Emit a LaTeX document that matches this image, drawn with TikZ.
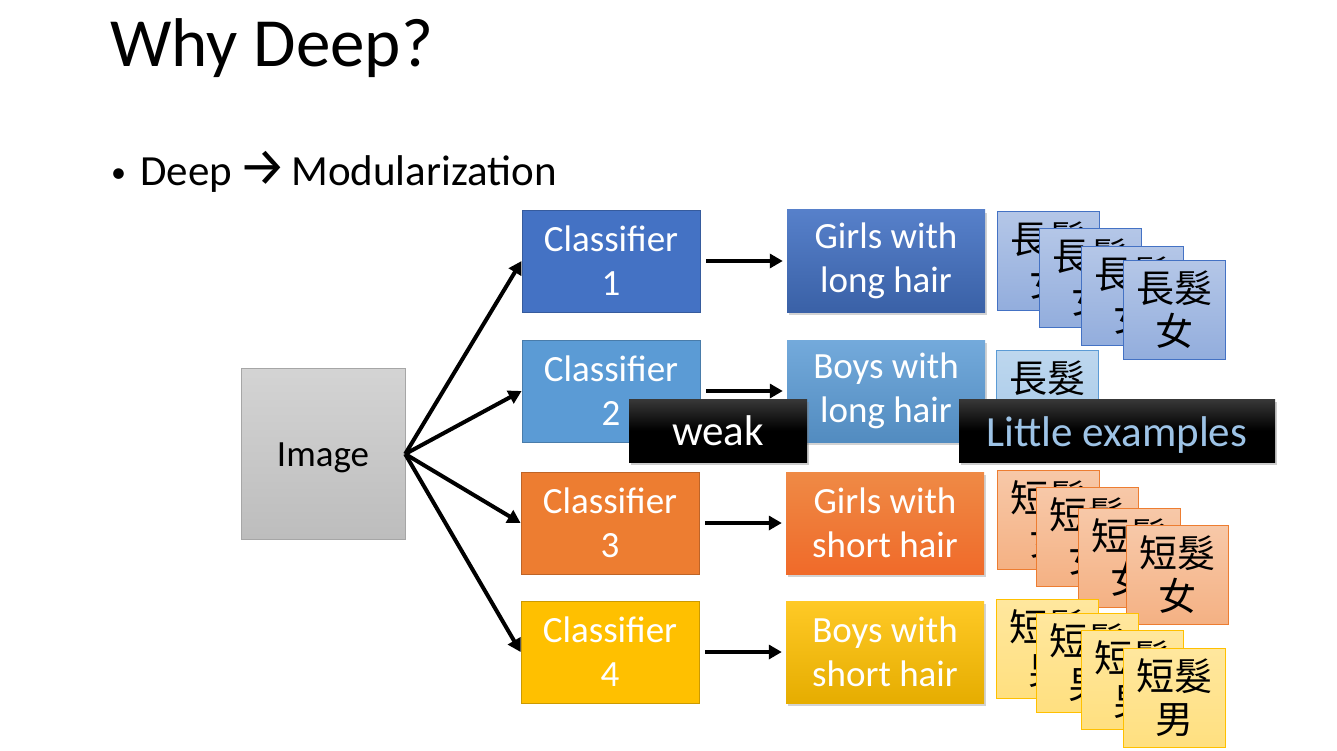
\documentclass[tikz,border=0pt]{standalone}
\usepackage{fontspec}
\setmainfont{Carlito}
\newfontfamily\cjkfont{Noto Sans CJK TC}
\newfontfamily\arrowfont{Fira Sans}
\usetikzlibrary{positioning,shadows,arrows.meta}

\definecolor{clsblue}{HTML}{4472C4}
\definecolor{clslight}{HTML}{5B9BD5}
\definecolor{clsorange}{HTML}{ED7D31}
\definecolor{clsyellow}{HTML}{FFC000}
\definecolor{tagtext}{HTML}{9DC3E6}

\tikzset{
  clsbox/.style={draw, minimum width=178pt, minimum height=102pt, text=white,
    align=center, font=\fontsize{37}{44}\selectfont, line width=0.8pt},
  outbox/.style={minimum width=198pt, minimum height=102pt, text=white,
    align=center, font=\fontsize{37}{44}\selectfont,
    drop shadow={shadow xshift=2pt, shadow yshift=-3pt, opacity=0.35}},
  card/.style={draw, minimum width=102pt, minimum height=99pt, align=center,
    font=\cjkfont\fontsize{38}{43}\selectfont, line width=0.8pt},
  tag/.style={top color=black!78, bottom color=black, middle color=black,
    minimum height=63pt, font=\fontsize{43}{50}\selectfont,
    drop shadow={shadow xshift=2pt, shadow yshift=-3pt, opacity=0.4}}
}

\begin{document}
\begin{tikzpicture}[x=1pt,y=-1pt,node distance=275pt,on grid,
    >={Triangle[length=13pt,width=14pt]}]
  \useasboundingbox[fill=white] (0,0) rectangle (1337,751);

  \node[anchor=base west, font=\fontsize{69}{80}\selectfont] (title) at (107,67) {Why Deep?};
  \node[anchor=base west, font=\fontsize{30}{36}\selectfont, inner sep=0pt] (bullet) at (111,183) {•};
  \node[anchor=base west, font=\fontsize{43}{50}\selectfont, inner sep=0pt] (point) at (140,186)
    {Deep\hspace{6pt}\scalebox{1.25}{\arrowfont →}\hspace{5pt}Modularization};

  \node[draw=black!35, top color=black!17, bottom color=black!26, minimum width=164pt,
    minimum height=171pt, font=\fontsize{37}{44}\selectfont] (img) at (323,454)
    {\raisebox{-1pt}[\height][0pt]{Image}};

  \node[clsbox, fill=clsblue, draw=clsblue!80!black] (cls_1) at (611,261) {Classifier\\1};
  \node[clsbox, fill=clslight, draw=clslight!80!black] (cls_2) at (611,391) {Classifier\\2};
  \node[clsbox, fill=clsorange, draw=clsorange!80!black] (cls_3) at (610,523) {Classifier\\3};
  \node[clsbox, fill=clsyellow, draw=clsyellow!80!black] (cls_4) at (610,652) {Classifier\\4};

  \node[outbox, top color=clsblue!90!white, bottom color=clsblue!85!black] (out_1) [right=of cls_1] {Girls with\\long hair};
  \node[outbox, top color=clslight!85!white, bottom color=clslight!90!black] (out_2) [right=of cls_2] {Boys with\\long hair};
  \node[outbox, top color=clsorange!90!white, bottom color=clsorange!85!red] (out_3) [right=of cls_3] {Girls with\\short hair};
  \node[outbox, top color=clsyellow!85!white, bottom color=clsyellow!90!black] (out_4) [right=of cls_4] {Boys with\\short hair};

  \path[->, line width=4pt]
    (img.east)
      edge (cls_1.west)
      edge (cls_2.west)
      edge (cls_3.west)
      edge (cls_4.west)
    (cls_1) edge [shorten <=6pt, shorten >=4pt] (out_1)
    (cls_2) edge [shorten <=6pt, shorten >=4pt] (out_2)
    (cls_3) edge [shorten <=6pt, shorten >=4pt] (out_3)
    (cls_4) edge [shorten <=6pt, shorten >=4pt] (out_4);

  % example cards
  \foreach \dx/\dy [count=\i] in {0/0,42/17,84/35,126/49}
    \node[card, draw=clsblue, top color=clsblue!40!white, bottom color=clsblue!58!white]
      (lg_\i) at (1048+\dx,261+\dy) {長髮\\女};
  \node[card, draw=clslight, top color=clslight!40!white, bottom color=clslight!55!white]
    (lb_1) at (1047.5,399.5) {長髮\\\phantom{長}};
  \foreach \dx/\dy [count=\i] in {0/0,39/17.5,81.5/38,129/55}
    \node[card, draw=clsorange, top color=clsorange!42!white, bottom color=clsorange!60!white]
      (sg_\i) at (1048+\dx,519.5+\dy) {短髮\\女};
  \foreach \dx/\dy [count=\i] in {0/0,39.5/14,84.5/31.5,126.5/49.5}
    \node[card, draw=clsyellow, top color=clsyellow!38!white, bottom color=clsyellow!50!white]
      (sb_\i) at (1047.5+\dx,648.5+\dy) {短髮\\男};

  \node[tag, text=white, minimum width=178pt] (weak) at (718,430.5) {weak};
  \node[tag, text=tagtext, minimum width=316pt] (few) at (1117,430.5)
    {\raisebox{-1pt}[\height][0pt]{Little examples}};
\end{tikzpicture}
\end{document}
